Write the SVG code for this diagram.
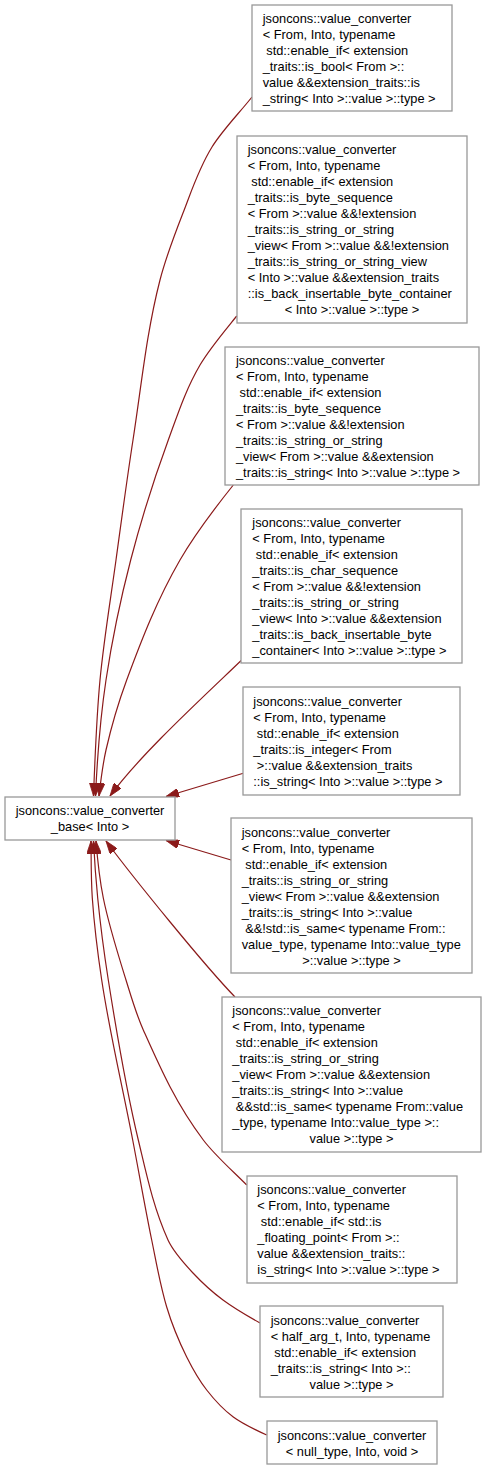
<svg xmlns="http://www.w3.org/2000/svg" width="486" height="1469" viewBox="0 0 486 1469" xml:space="preserve">
<style>
.n rect{fill:#ffffff;stroke:#999999;stroke-width:1.3}
text{font-family:"Liberation Sans",Arial,sans-serif;font-size:12.8px;fill:#000000;white-space:pre}
.c{text-anchor:middle}
.e path{fill:none;stroke:#8b1a1a;stroke-width:1.2;marker-end:url(#ah)}
</style>
<defs>
<marker id="ah" viewBox="0 0 13 9" refX="13" refY="4.5" markerWidth="13" markerHeight="9" markerUnits="userSpaceOnUse" orient="auto"><path d="M0,0 L13,4.5 L0,9 z" fill="#8b1a1a" stroke="#8b1a1a" stroke-width="0.8"/></marker>
</defs>
<rect width="486" height="1469" fill="#ffffff"/>
<g id="edges" class="e">
<path d="M252,97 C238.7,113.7 222.3,130.3 212,147 C198.4,169 191.6,191 183,213 C174.3,235.3 165.7,257.7 160,280 C146.3,333.3 141.3,386.7 133,440 C126.8,480 121.5,520 116,560 C110.5,600 103.8,640 100,680 C96.4,718.3 95,756.7 93.5,796"/>
<path d="M236.7,316 C223.6,332.3 209.6,348.7 200,365 C185.4,390 177.5,415 168.3,440 C153.6,480 141.1,520 130.7,560 C120.3,600 112,640 106,680 C100.2,718.3 97.3,756.7 95.5,796"/>
<path d="M233.3,485 C213.3,510 194.5,535 180,560 C156.9,600 141.5,640 126.7,680 C118.1,703.3 111.3,726.7 106,750 C102.6,765 100.8,780 99,796"/>
<path d="M241.7,660 C200,700 140,755 110,796"/>
<path d="M243.3,773.3 L166,796.5"/>
<path d="M231,860 L166,840.5"/>
<path d="M235,997 C205,966 135,880 106,841"/>
<path d="M246.7,1185 C231.7,1170 214.6,1155 203.3,1140 C175.6,1103.3 159.7,1066.7 143.3,1030 C135.9,1013.3 131.2,996.7 126,980 C117.5,952.7 108.8,925.3 103.3,898 C99.5,879 97.5,860 96,841"/>
<path d="M260,1323 C246.2,1315.3 233.4,1307.7 223,1300 C210.8,1291 201.4,1282 193,1273 C182.7,1262 173,1251 168,1240 C153,1206.7 146.3,1173.3 138.3,1140 C125.5,1086.7 116.7,1033.3 108.3,980 C104,952.7 100.4,925.3 97.7,898 C95.8,879 94.45,860 93.5,841"/>
<path d="M266.7,1435 C253.5,1429 241.4,1423 233.3,1417 C221.2,1408 213.7,1399 206.7,1390 C198.1,1379 192.2,1368 186.7,1357 C178.4,1340.3 171.7,1323.7 166.7,1307 C160,1284.7 156.3,1262.3 151.7,1240 C144.9,1206.7 139.1,1173.3 132.7,1140 C122.5,1086.7 109.7,1033.3 101.7,980 C97.6,952.7 94.2,925.3 92.3,898 C91,879 91.2,860 91,841"/>
</g>
<g id="node-bool" class="n">
<rect x="252" y="5" width="200" height="106"/>
<text x="262.7" y="23.3">jsoncons::value_converter</text>
<text x="262.7" y="39.3">&lt; From, Into, typename</text>
<text x="262.7" y="55.3"> std::enable_if&lt; extension</text>
<text x="262.7" y="71.3">_traits::is_bool&lt; From &gt;::</text>
<text x="262.7" y="87.3">value &amp;&amp;extension_traits::is</text>
<text x="262.7" y="103.3">_string&lt; Into &gt;::value &gt;::type &gt;</text>
</g>
<g id="node-byteseq-backins" class="n">
<rect x="237" y="136" width="230" height="187"/>
<text x="247.7" y="154.3">jsoncons::value_converter</text>
<text x="247.7" y="170.3">&lt; From, Into, typename</text>
<text x="247.7" y="186.3"> std::enable_if&lt; extension</text>
<text x="247.7" y="202.3">_traits::is_byte_sequence</text>
<text x="247.7" y="218.3">&lt; From &gt;::value &amp;&amp;!extension</text>
<text x="247.7" y="234.3">_traits::is_string_or_string</text>
<text x="247.7" y="250.3">_view&lt; From &gt;::value &amp;&amp;!extension</text>
<text x="247.7" y="266.3">_traits::is_string_or_string_view</text>
<text x="247.7" y="282.3">&lt; Into &gt;::value &amp;&amp;extension_traits</text>
<text x="247.7" y="298.3">::is_back_insertable_byte_container</text>
<text x="352" y="314.3" class="c">&lt; Into &gt;::value &gt;::type &gt;</text>
</g>
<g id="node-byteseq-string" class="n">
<rect x="225" y="347" width="254" height="138"/>
<text x="236" y="365">jsoncons::value_converter</text>
<text x="236" y="381">&lt; From, Into, typename</text>
<text x="236" y="397"> std::enable_if&lt; extension</text>
<text x="236" y="413">_traits::is_byte_sequence</text>
<text x="236" y="429">&lt; From &gt;::value &amp;&amp;!extension</text>
<text x="236" y="445">_traits::is_string_or_string</text>
<text x="236" y="461">_view&lt; From &gt;::value &amp;&amp;extension</text>
<text x="236" y="477">_traits::is_string&lt; Into &gt;::value &gt;::type &gt;</text>
</g>
<g id="node-charseq" class="n">
<rect x="241" y="509" width="221" height="154"/>
<text x="252.3" y="527">jsoncons::value_converter</text>
<text x="252.3" y="543">&lt; From, Into, typename</text>
<text x="252.3" y="559"> std::enable_if&lt; extension</text>
<text x="252.3" y="575">_traits::is_char_sequence</text>
<text x="252.3" y="591">&lt; From &gt;::value &amp;&amp;!extension</text>
<text x="252.3" y="607">_traits::is_string_or_string</text>
<text x="252.3" y="623">_view&lt; Into &gt;::value &amp;&amp;extension</text>
<text x="252.3" y="639">_traits::is_back_insertable_byte</text>
<text x="252.3" y="655">_container&lt; Into &gt;::value &gt;::type &gt;</text>
</g>
<g id="node-integer" class="n">
<rect x="243" y="687" width="217" height="108"/>
<text x="253.3" y="706">jsoncons::value_converter</text>
<text x="253.3" y="722">&lt; From, Into, typename</text>
<text x="253.3" y="738"> std::enable_if&lt; extension</text>
<text x="253.3" y="754">_traits::is_integer&lt; From</text>
<text x="253.3" y="770"> &gt;::value &amp;&amp;extension_traits</text>
<text x="253.3" y="786">::is_string&lt; Into &gt;::value &gt;::type &gt;</text>
</g>
<g id="node-base" class="n">
<rect x="5" y="797" width="170" height="43"/>
<text x="15.7" y="815">jsoncons::value_converter</text>
<text x="90" y="831" class="c">_base&lt; Into &gt;</text>
</g>
<g id="node-sv-notsame" class="n">
<rect x="231" y="818" width="241" height="155"/>
<text x="241.7" y="837">jsoncons::value_converter</text>
<text x="241.7" y="853">&lt; From, Into, typename</text>
<text x="241.7" y="869"> std::enable_if&lt; extension</text>
<text x="241.7" y="885">_traits::is_string_or_string</text>
<text x="241.7" y="901">_view&lt; From &gt;::value &amp;&amp;extension</text>
<text x="241.7" y="917">_traits::is_string&lt; Into &gt;::value</text>
<text x="241.7" y="933"> &amp;&amp;!std::is_same&lt; typename From::</text>
<text x="241.7" y="949">value_type, typename Into::value_type</text>
<text x="351.5" y="965" class="c">&gt;::value &gt;::type &gt;</text>
</g>
<g id="node-sv-same" class="n">
<rect x="222" y="997" width="259" height="155"/>
<text x="232.3" y="1015">jsoncons::value_converter</text>
<text x="232.3" y="1031">&lt; From, Into, typename</text>
<text x="232.3" y="1047"> std::enable_if&lt; extension</text>
<text x="232.3" y="1063">_traits::is_string_or_string</text>
<text x="232.3" y="1079">_view&lt; From &gt;::value &amp;&amp;extension</text>
<text x="232.3" y="1095">_traits::is_string&lt; Into &gt;::value</text>
<text x="232.3" y="1111"> &amp;&amp;std::is_same&lt; typename From::value</text>
<text x="232.3" y="1127">_type, typename Into::value_type &gt;::</text>
<text x="351.5" y="1143" class="c">value &gt;::type &gt;</text>
</g>
<g id="node-floating" class="n">
<rect x="247" y="1176" width="210" height="107"/>
<text x="257.3" y="1194.3">jsoncons::value_converter</text>
<text x="257.3" y="1210.3">&lt; From, Into, typename</text>
<text x="257.3" y="1226.3"> std::enable_if&lt; std::is</text>
<text x="257.3" y="1242.3">_floating_point&lt; From &gt;::</text>
<text x="257.3" y="1258.3">value &amp;&amp;extension_traits::</text>
<text x="257.3" y="1274.3">is_string&lt; Into &gt;::value &gt;::type &gt;</text>
</g>
<g id="node-half" class="n">
<rect x="260" y="1306" width="183" height="91"/>
<text x="270.7" y="1325">jsoncons::value_converter</text>
<text x="270.7" y="1341">&lt; half_arg_t, Into, typename</text>
<text x="270.7" y="1357"> std::enable_if&lt; extension</text>
<text x="270.7" y="1373">_traits::is_string&lt; Into &gt;::</text>
<text x="351.5" y="1389" class="c">value &gt;::type &gt;</text>
</g>
<g id="node-null" class="n">
<rect x="267" y="1421" width="170" height="43"/>
<text x="277.7" y="1439.6">jsoncons::value_converter</text>
<text x="352" y="1455.6" class="c">&lt; null_type, Into, void &gt;</text>
</g>
</svg>
